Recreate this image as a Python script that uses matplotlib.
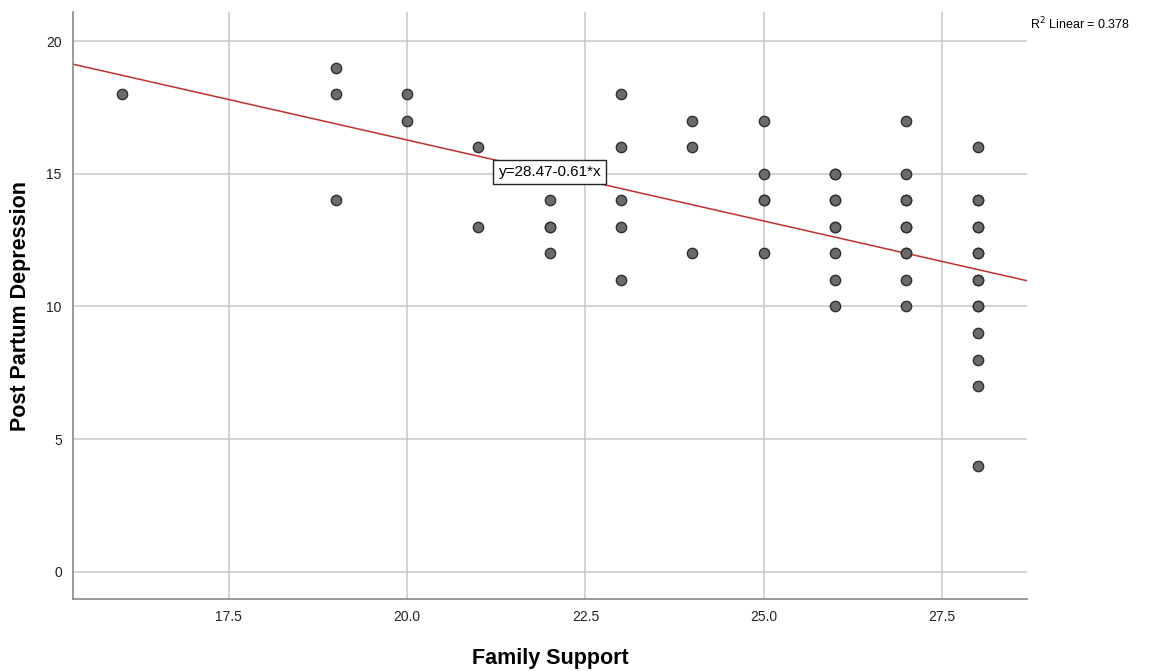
import matplotlib
matplotlib.use("Agg")
import matplotlib.pyplot as plt
import numpy as np

# Data (duplicates where markers appear darker/overlapping)
family_support = [16,
                  19, 19, 19,
                  20, 20,
                  21, 21,
                  22, 22, 22, 22,
                  23, 23, 23, 23, 23,
                  24, 24, 24,
                  25, 25, 25, 25, 25,
                  26, 26, 26, 26, 26, 26, 26, 26, 26,
                  27, 27, 27, 27, 27, 27, 27, 27, 27, 27,
                  28, 28, 28, 28, 28, 28, 28, 28, 28, 28, 28, 28, 28, 28, 28]
ppd = [18,
       19, 18, 14,
       18, 17,
       16, 13,
       14, 13, 13, 12,
       18, 16, 14, 13, 11,
       17, 16, 12,
       17, 15, 14, 14, 12,
       15, 15, 14, 14, 13, 13, 12, 11, 10,
       17, 15, 14, 14, 13, 13, 12, 12, 11, 10,
       16, 14, 14, 13, 13, 12, 12, 11, 11, 10, 10, 9, 8, 7, 4]

intercept = 28.47
slope = -0.61
r2 = 0.378
x_ticks = [17.5, 20.0, 22.5, 25.0, 27.5]
y_ticks = [0, 5, 10, 15, 20]

plt.rcParams['font.family'] = ['Liberation Sans', 'DejaVu Sans']

fig = plt.figure(figsize=(11.51, 6.71), dpi=100)
ax = fig.add_axes([0.0634, 0.1073, 0.8289, 0.8747])

xmin, xmax = 15.315, 28.69
ymin, ymax = -1.02, 21.09
ax.set_xlim(xmin, xmax)
ax.set_ylim(ymin, ymax)

ax.set_xticks(x_ticks)
ax.set_xticklabels([f"{v:.1f}" for v in x_ticks])
ax.set_yticks(y_ticks)
ax.grid(True, color='#c8c8c8', linewidth=1.1)
ax.set_axisbelow(True)
ax.tick_params(length=0, labelsize=10, colors='#222222', pad=8)

for s in ['top', 'right']:
    ax.spines[s].set_visible(False)
for s in ['left', 'bottom']:
    ax.spines[s].set_color('#888888')
    ax.spines[s].set_linewidth(1.2)

xs = np.array([xmin, xmax])
ax.plot(xs, intercept + slope * xs, color='#c0302f', linewidth=1.1, zorder=2)

ax.scatter(family_support, ppd, s=55, facecolor='#6b6b6b', edgecolor='#2f2f2f',
           linewidth=1.0, zorder=3)

ax.text(22.0, 15.06, f"y={intercept:.2f}{slope:.2f}*x", ha='center', va='center',
        fontsize=11, zorder=4,
        bbox=dict(boxstyle='square,pad=0.35', facecolor='white', edgecolor='#222222', linewidth=1))

fig.text(0.895, 0.964, r"R$^2$ Linear = " + f"{r2:.3f}", fontsize=9, ha='left', va='center')

ax.set_xlabel("Family Support", fontsize=15.5, fontweight='bold', labelpad=17)
ax.set_ylabel("Post Partum Depression", fontsize=15.5, fontweight='bold', labelpad=11)

fig.savefig("out.png", dpi=100, facecolor='white')
